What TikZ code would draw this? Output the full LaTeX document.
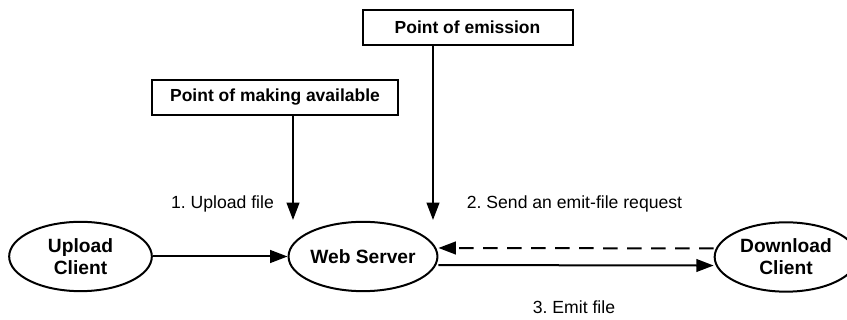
\documentclass[tikz,border=0pt]{standalone}
\usepackage{fontspec}
\setmainfont{Liberation Sans}
\usetikzlibrary{arrows.meta, shapes.geometric}
\definecolor{mydark}{RGB}{0, 0, 0}
\frenchspacing

\tikzset{
    party/.style={draw=mydark, ellipse, line width=1.5pt, inner sep=0pt,
        minimum width=107pt, minimum height=52pt, align=center,
        font=\fontsize{14.4}{16.5}\selectfont\bfseries},
    pointbox/.style={draw=mydark, line width=1.5pt, inner sep=0pt,
        minimum height=26pt, font=\fontsize{13.1}{15}\selectfont\bfseries},
    steplabel/.style={anchor=base, inner sep=0pt, font=\fontsize{13.2}{15}\selectfont},
    flow/.style={-{Triangle[length=13pt, width=9.5pt]}, line width=1.5pt, mydark},
    request/.style={flow, dashed, dash pattern=on 11pt off 7pt}
}

\begin{document}
\begin{tikzpicture}[x=0.75pt, y=-0.75pt]
    % pixel grid, origin top left
    \useasboundingbox (0, 0) rectangle (847, 320);

    % ----------------------------------------------------
    % Clients and server
    % ----------------------------------------------------
    \node[party] (upload) at (80.5, 256.5) {Upload\\Client};
    \node[party] (server) at (363, 256.5) {Web Server};
    \node[party] (download) at (786, 257) {Download\\Client};

    % ----------------------------------------------------
    % Points in time
    % ----------------------------------------------------
    \node[pointbox, minimum width=184.5pt] (making) at (275, 97.5) {Point of making available};
    \node[pointbox, minimum width=157.5pt] (emission) at (467.5, 27.5) {Point of emission};

    % free ends of the two vertical arrows
    \coordinate (makingtip) at (293, 220);
    \coordinate (emissiontip) at (433, 220);

    \draw[flow] (making.south -| makingtip) -- (makingtip);
    \draw[flow] (emission.south -| emissiontip) -- (emissiontip);

    % ----------------------------------------------------
    % Transfers
    % ----------------------------------------------------
    \draw[flow] (upload.east) -- (server.west);
    \draw[request] ([yshift=6.4pt]download.west) -- ([yshift=6.4pt]server.east);
    \draw[flow] ([yshift=-6.4pt]server.east) -- ([yshift=-6.4pt]download.west);

    % step labels
    \node[steplabel] (upl) at (222.5, 209) {1. Upload file};
    \node[steplabel] (req) at (574.5, 209) {2. Send an emit-file request};
    \node[steplabel] (emi) at (574, 314) {3. Emit file};

\end{tikzpicture}
\end{document}
